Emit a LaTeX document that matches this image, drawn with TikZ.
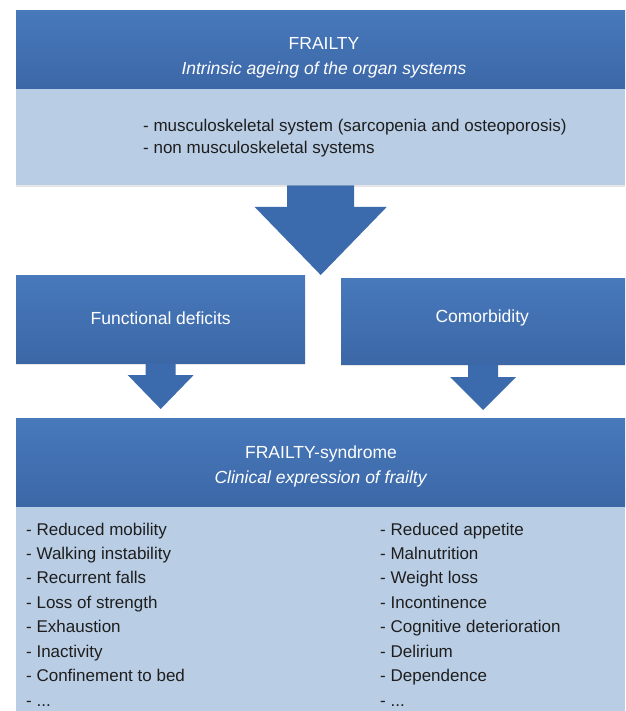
\documentclass[tikz,border=0pt]{standalone}
\usepackage{fontspec}
\setmainfont{Liberation Sans}
\usetikzlibrary{positioning,calc,shadows}

\definecolor{hdrtop}{HTML}{4779BB}
\definecolor{hdrbot}{HTML}{3C67A7}
\definecolor{bodyblue}{HTML}{B9CDE5}
\definecolor{arrowblue}{HTML}{3B6AAD}
\definecolor{listgray}{HTML}{1E1E1E}

\tikzset{
  hdrbox/.style={rectangle, anchor=north west, inner sep=0pt,
    top color=hdrtop, bottom color=hdrbot, text=white,
    font=\fontsize{17.5}{21}\selectfont,
    drop shadow={shadow xshift=0pt, shadow yshift=-2pt, opacity=0.2}},
  bodybox/.style={rectangle, anchor=north west, inner sep=0pt, fill=bodyblue,
    drop shadow={shadow xshift=0pt, shadow yshift=-2pt, opacity=0.2}},
  hdrtext/.style={text=white, inner sep=0pt, anchor=base, font=\fontsize{17.5}{21}\selectfont},
  bodytext/.style={text=listgray, inner sep=0pt, anchor=base west, font=\fontsize{17}{20}\selectfont},
}

% Blockpfeil: Start, Spitze, halbe Schaftbreite, halbe Kopfbreite, Kopflaenge
\newcommand{\blockarrow}[5]{%
  \fill[arrowblue] let \p1=(#1), \p2=(#2) in
    (\x1-#3,\y1) -- (\x1-#3,\y2+#5) -- (\x1-#4,\y2+#5) -- (\x1,\y2)
    -- (\x1+#4,\y2+#5) -- (\x1+#3,\y2+#5) -- (\x1+#3,\y1) -- cycle;}

\begin{document}
\begin{tikzpicture}[x=1pt, y=-1pt]
  \useasboundingbox (0,0) rectangle (625,711);

  % Oberer Block
  \node[hdrbox, minimum width=609pt, minimum height=79pt] (frailty) at (16,10) {};
  \node[bodybox, minimum width=609pt, minimum height=96pt] (organs) at (16,89) {};
  \node[hdrtext] (frailtytitle) at (324,50) {FRAILTY};
  \node[hdrtext] (frailtysub) at (324,75) {\textit{Intrinsic ageing of the organ systems}};
  \node[bodytext] (organs1) at (143,132) {- musculoskeletal system (sarcopenia and osteoporosis)};
  \node[bodytext] (organs2) at (143,154) {- non musculoskeletal systems};

  % Mittlere Bloecke
  \node[hdrbox, minimum width=289pt, minimum height=88pt] (functional) at (16,275) {};
  \node[hdrbox, minimum width=284pt, minimum height=86pt] (comorb) at (341,278) {};
  \node[hdrtext, anchor=center] (functionaltext) at ($(functional.center)+(0,-1)$) {Functional deficits};
  \node[hdrtext, anchor=center] (comorbtext) at ($(comorb.center)+(-1,-3)$) {Comorbidity};

  % Unterer Block
  \node[hdrbox, minimum width=609pt, minimum height=89pt] (syndrome) at (16,418) {};
  \node[bodybox, minimum width=609pt, minimum height=210pt] (symptoms) at (16,507) {};
  \node[hdrtext] (syndrometitle) at (321,458) {FRAILTY-syndrome};
  \node[hdrtext] (syndromesub) at (321,483) {\textit{Clinical expression of frailty}};

  % Pfeile
  \blockarrow{organs.south}{organs.south |- functional.north}{33.5pt}{66pt}{68pt}
  \blockarrow{functional.south}{$(functional.south |- syndrome.north)+(0,-9)$}{15pt}{33pt}{34pt}
  \blockarrow{comorb.south}{$(comorb.south |- syndrome.north)+(0,-8)$}{15pt}{33pt}{33pt}

  % Symptomlisten
  \foreach \sym [count=\i from 0] in {Reduced mobility, Walking instability, Recurrent falls,
      Loss of strength, Exhaustion, Inactivity, Confinement to bed}
    \node[bodytext] (left\i) at (26,535+24.4*\i) {- \sym};
  \node[bodytext] (leftmore) at (26,706) {- ...};
  \foreach \sym [count=\i from 0] in {Reduced appetite, Malnutrition, Weight loss,
      Incontinence, Cognitive deterioration, Delirium, Dependence}
    \node[bodytext] (right\i) at (380,535+24.4*\i) {- \sym};
  \node[bodytext] (rightmore) at (380,706) {- ...};
\end{tikzpicture}
\end{document}
